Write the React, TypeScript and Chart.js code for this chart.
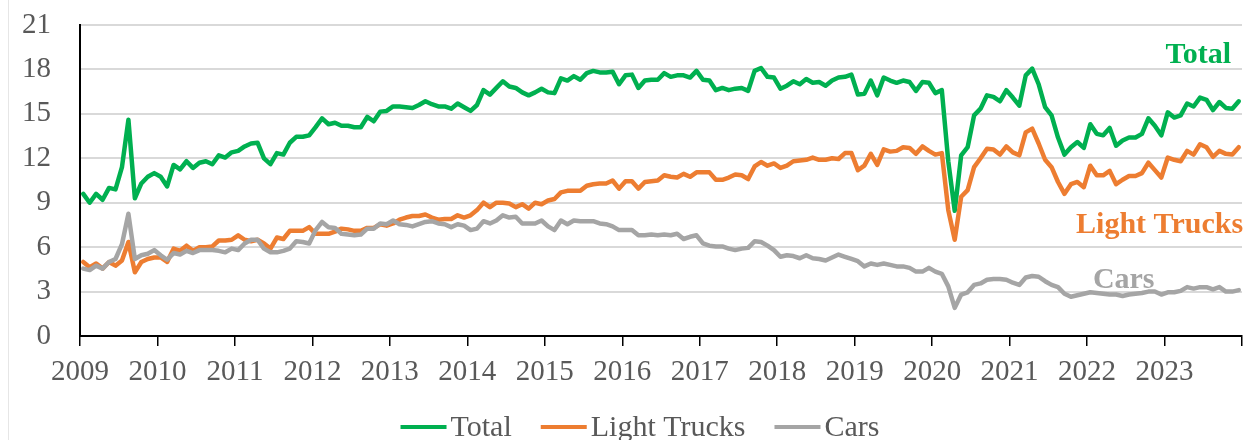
import React, { useEffect, useRef } from 'react';
import { Chart, registerables } from 'chart.js';

Chart.register(...registerables);

// ---- Data (millions of units, SAAR, monthly Jan 2009 – Dec 2023) ----
const yearLabels = ['2009', '2010', '2011', '2012', '2013', '2014', '2015', '2016', '2017', '2018', '2019', '2020', '2021', '2022', '2023'];
const yTickValues = [0, 3, 6, 9, 12, 15, 18, 21];
const seriesNames = ['Total', 'Light Trucks', 'Cars'];
const seriesColors = ['#00B050', '#ED7D31', '#A5A5A5'];

const totalSales = [
  9.6, 9.0, 9.6, 9.2, 10.0, 9.9, 11.4, 14.6, 9.3, 10.3, 10.75, 11.0,
  10.75, 10.1, 11.55, 11.25, 11.8, 11.35, 11.7, 11.8, 11.6, 12.2, 12.05, 12.4,
  12.5, 12.8, 13.0, 13.05, 12.0, 11.6, 12.35, 12.25, 13.05, 13.45, 13.45, 13.55,
  14.1, 14.7, 14.3, 14.4, 14.2, 14.2, 14.1, 14.1, 14.8, 14.5, 15.15, 15.2,
  15.5, 15.5, 15.45, 15.4, 15.6, 15.85, 15.65, 15.5, 15.5, 15.35, 15.7, 15.45,
  15.2, 15.6, 16.6, 16.3, 16.75, 17.2, 16.85, 16.75, 16.45, 16.25, 16.45, 16.7,
  16.45, 16.4, 17.4, 17.25, 17.55, 17.3, 17.75, 17.9, 17.8, 17.8, 17.85, 17.0,
  17.6, 17.65, 16.75, 17.25, 17.3, 17.3, 17.75, 17.5, 17.6, 17.6, 17.45, 17.9,
  17.3, 17.25, 16.6, 16.75, 16.6, 16.7, 16.75, 16.55, 17.9, 18.1, 17.5, 17.45,
  16.7, 16.9, 17.2, 17.0, 17.35, 17.1, 17.15, 16.9, 17.25, 17.45, 17.5, 17.65,
  16.3, 16.35, 17.25, 16.25, 17.45, 17.25, 17.1, 17.25, 17.15, 16.55, 17.15, 17.1,
  16.4, 16.6, 11.8, 8.45, 12.2, 12.75, 14.9, 15.35, 16.25, 16.15, 15.85, 16.6,
  16.1, 15.55, 17.6, 18.05, 17.0, 15.45, 14.9, 13.4, 12.25, 12.75, 13.1, 12.7,
  14.3, 13.65, 13.55, 14.05, 12.85, 13.2, 13.4, 13.4, 13.65, 14.7, 14.2, 13.55,
  15.1, 14.75, 14.9, 15.7, 15.5, 16.1, 15.95, 15.25, 15.8, 15.4, 15.35, 15.85,
];

const lightTruckSales = [
  5.0, 4.65, 4.9, 4.55, 5.0, 4.75, 5.1, 6.35, 4.3, 5.0, 5.2, 5.3,
  5.3, 5.0, 5.9, 5.75, 6.1, 5.75, 6.0, 6.0, 6.05, 6.45, 6.45, 6.5,
  6.8, 6.5, 6.4, 6.5, 6.25, 5.9, 6.65, 6.55, 7.1, 7.1, 7.1, 7.35,
  6.9, 6.9, 6.9, 7.05, 7.25, 7.2, 7.1, 7.1, 7.3, 7.3, 7.55, 7.45,
  7.6, 7.85, 8.0, 8.1, 8.1, 8.2, 8.0, 7.85, 7.9, 7.9, 8.15, 8.0,
  8.15, 8.5, 9.0, 8.7, 9.0, 9.0, 8.95, 8.7, 8.9, 8.6, 9.0, 8.9,
  9.15, 9.25, 9.7, 9.8, 9.8, 9.8, 10.15, 10.25, 10.3, 10.3, 10.5, 9.95,
  10.45, 10.45, 9.95, 10.4, 10.45, 10.5, 10.85, 10.75, 10.7, 10.95, 10.75, 11.05,
  11.05, 11.05, 10.55, 10.55, 10.7, 10.9, 10.85, 10.6, 11.45, 11.75, 11.5, 11.65,
  11.35, 11.5, 11.8, 11.85, 11.9, 12.05, 11.9, 11.9, 12.0, 11.95, 12.35, 12.35,
  11.2, 11.5, 12.3, 11.55, 12.6, 12.45, 12.5, 12.75, 12.7, 12.3, 12.8, 12.5,
  12.25, 12.35, 8.5, 6.5, 9.4, 9.85, 11.4, 12.0, 12.65, 12.6, 12.25, 12.8,
  12.4, 12.2, 13.75, 14.0, 13.0, 11.9, 11.4, 10.4, 9.6, 10.25, 10.4, 10.05,
  11.5, 10.85, 10.85, 11.15, 10.25, 10.55, 10.8, 10.8, 11.0, 11.7, 11.2, 10.7,
  12.05, 11.9, 11.8, 12.5, 12.25, 12.95, 12.75, 12.1, 12.5, 12.3, 12.25, 12.75,
];

const carSales = [
  4.55, 4.45, 4.75, 4.55, 5.0, 5.2, 6.2, 8.25, 5.2, 5.45, 5.55, 5.8,
  5.45, 5.15, 5.6, 5.5, 5.75, 5.6, 5.8, 5.8, 5.8, 5.75, 5.65, 5.9,
  5.8, 6.25, 6.5, 6.5, 5.9, 5.65, 5.65, 5.75, 5.9, 6.4, 6.35, 6.25,
  7.15, 7.7, 7.35, 7.3, 6.9, 6.85, 6.8, 6.85, 7.25, 7.25, 7.6, 7.55,
  7.8, 7.55, 7.5, 7.4, 7.55, 7.7, 7.75, 7.6, 7.55, 7.35, 7.55, 7.45,
  7.15, 7.25, 7.75, 7.6, 7.8, 8.15, 8.0, 8.05, 7.6, 7.6, 7.6, 7.8,
  7.4, 7.15, 7.8, 7.55, 7.8, 7.75, 7.75, 7.75, 7.6, 7.55, 7.4, 7.15,
  7.15, 7.15, 6.8, 6.8, 6.85, 6.8, 6.85, 6.8, 6.9, 6.55, 6.7, 6.8,
  6.25, 6.1, 6.05, 6.05, 5.9, 5.8, 5.9, 5.95, 6.4, 6.35, 6.1, 5.8,
  5.35, 5.45, 5.4, 5.25, 5.45, 5.25, 5.2, 5.1, 5.3, 5.5, 5.35, 5.2,
  5.05, 4.7, 4.9, 4.8, 4.9, 4.8, 4.7, 4.7, 4.6, 4.35, 4.35, 4.6,
  4.35, 4.2, 3.35, 1.9, 2.8, 2.95, 3.45, 3.55, 3.8, 3.85, 3.85, 3.8,
  3.6, 3.45, 3.95, 4.05, 4.0, 3.7, 3.45, 3.3, 2.85, 2.65, 2.75, 2.85,
  2.95, 2.9, 2.85, 2.8, 2.8, 2.7, 2.8, 2.85, 2.9, 3.0, 3.0, 2.8,
  2.95, 2.95, 3.05, 3.3, 3.2, 3.3, 3.3, 3.15, 3.3, 3.0, 3.0, 3.1,
];

const FONT = "'Liberation Serif', 'Times New Roman', Times, serif";
const TEXT_GRAY = '#595959';

export default function App() {
  const canvasRef = useRef<HTMLCanvasElement | null>(null);

  useEffect(() => {
    const canvas = canvasRef.current;
    if (!canvas) return;

    // each month is plotted at the centre of its monthly slot
    const toPoints = (arr: number[]) => arr.map((v, i) => ({ x: i + 0.5, y: v }));

    const seriesTags = [
      { text: seriesNames[0], color: seriesColors[0], month: 178.3, value: 18.43, align: 'right' as CanvasTextAlign },
      { text: seriesNames[1], color: seriesColors[1], month: 154.3, value: 6.95, align: 'left' as CanvasTextAlign },
      { text: seriesNames[2], color: seriesColors[2], month: 156.9, value: 3.24, align: 'left' as CanvasTextAlign },
    ];

    const tagPlugin = {
      id: 'seriesTags',
      afterDatasetsDraw(chart: any) {
        const { ctx, scales } = chart;
        ctx.save();
        ctx.font = `bold 30px ${FONT}`;
        ctx.textBaseline = 'alphabetic';
        seriesTags.forEach((t) => {
          ctx.fillStyle = t.color;
          ctx.textAlign = t.align;
          ctx.fillText(t.text, scales.x.getPixelForValue(t.month), scales.y.getPixelForValue(t.value));
        });
        ctx.restore();
      },
    };

    const legendPlugin = {
      id: 'bottomLegend',
      afterDraw(chart: any) {
        const ctx = chart.ctx;
        ctx.save();
        ctx.font = `30px ${FONT}`;
        const lineW = 46;
        const gap = 4;
        const itemGap = 29;
        const items = chart.data.datasets.map((ds: any) => ({
          text: ds.label as string,
          color: ds.borderColor as string,
          w: ctx.measureText(ds.label).width,
        }));
        const totalW = items.reduce((s: number, it: any) => s + lineW + gap + it.w, 0) + itemGap * (items.length - 1);
        let x = 640 - totalW / 2;
        items.forEach((it: any) => {
          ctx.fillStyle = it.color;
          ctx.fillRect(x, 425, lineW, 4);
          x += lineW + gap;
          ctx.fillStyle = TEXT_GRAY;
          ctx.textAlign = 'left';
          ctx.textBaseline = 'alphabetic';
          ctx.fillText(it.text, x, 436);
          x += it.w + itemGap;
        });
        ctx.restore();
      },
    };

    const seriesData = [totalSales, lightTruckSales, carSales];
    const chart = new Chart(canvas, {
      type: 'line',
      data: {
        datasets: seriesData.map((arr, k) => ({
          label: seriesNames[k],
          data: toPoints(arr),
          borderColor: seriesColors[k],
          backgroundColor: seriesColors[k],
          borderWidth: 4.5,
          pointRadius: 0,
          tension: 0,
          fill: false,
          borderJoinStyle: 'round',
          borderCapStyle: 'round',
          order: 2 - k,
        })),
      },
      options: {
        responsive: false,
        animation: false,
        events: [],
        layout: { padding: { left: 0, right: 6, top: 25, bottom: 50 } },
        scales: {
          x: {
            type: 'linear',
            min: 0,
            max: yearLabels.length * 12,
            afterBuildTicks: (s: any) => {
              const t = yearLabels.map((_, k) => ({ value: k * 12 }));
              t.push({ value: yearLabels.length * 12 });
              s.ticks = t;
            },
            afterFit: (s: any) => {
              s.height = 54;
              s.paddingLeft = 0;
              s.paddingRight = 0;
            },
            ticks: {
              autoSkip: false,
              maxRotation: 0,
              minRotation: 0,
              padding: 9,
              color: TEXT_GRAY,
              font: { family: FONT, size: 29 },
              callback: (v: any) => yearLabels[Math.round(Number(v) / 12)] ?? '',
            },
            grid: { drawOnChartArea: false, drawTicks: true, tickLength: 10, color: '#000', lineWidth: 1.5 },
            border: { display: true, color: '#000', width: 2 },
          },
          y: {
            min: 0,
            max: 21,
            afterBuildTicks: (s: any) => {
              s.ticks = yTickValues.map((v) => ({ value: v }));
            },
            afterFit: (s: any) => {
              s.width = 80;
              s.paddingTop = 0;
              s.paddingBottom = 0;
            },
            ticks: {
              padding: 29,
              color: TEXT_GRAY,
              font: { family: FONT, size: 29 },
              callback: (v: any) => String(v),
            },
            grid: { color: '#d9d9d9', lineWidth: 2, drawTicks: false },
            border: { display: true, color: '#000', width: 2 },
          },
        },
        plugins: {
          legend: { display: false },
          tooltip: { enabled: false },
        },
      },
      plugins: [tagPlugin, legendPlugin],
    } as any);

    return () => chart.destroy();
  }, []);

  return (
    <div style={{ position: 'fixed', left: 0, top: 0, width: 1248, height: 440, background: '#fff' }}>
      <div style={{ position: 'absolute', left: 8, top: 0, width: 1, height: 440, background: '#e6e6e6' }} />
      <canvas ref={canvasRef} width={1248} height={440} style={{ position: 'absolute', left: 0, top: 0, display: 'block' }} />
    </div>
  );
}
